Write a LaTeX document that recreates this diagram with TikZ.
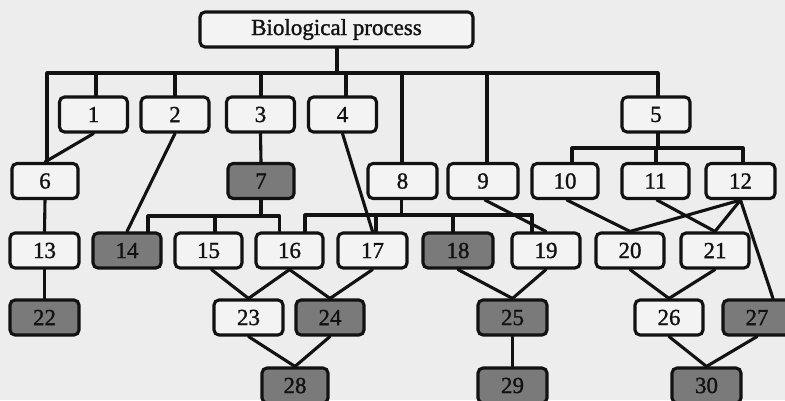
\documentclass[tikz,border=0pt]{standalone}
\usepackage{fontspec}
\setmainfont[FakeBold=1.2]{Liberation Serif}
\definecolor{paper}{HTML}{EDEDED}
\definecolor{boxfill}{HTML}{F3F3F3}
\definecolor{shade}{HTML}{7A7A7A}
\definecolor{ink}{HTML}{121212}
\begin{document}
\begin{tikzpicture}[x=1pt,y=-1pt,
  term/.style={draw=ink, line width=3.1pt, rounded corners=5pt, fill=boxfill,
    minimum width=68pt, minimum height=35pt, inner sep=0pt,
    font=\fontsize{23}{25}\selectfont, text=ink},
  hit/.style={term, fill=shade},
  link/.style={draw=ink, line width=3.1pt, line cap=round, line join=round}]
\fill[paper] (0,0) rectangle (785,400);
\useasboundingbox (0,0) rectangle (785,400);

% root
\node[term, minimum width=273pt] (root) at (336.5,29.5) {Biological process};

% first level
\node[term] (n1) at (93.5,114.5) {1};
\node[term] (n2) at (175,114.5) {2};
\node[term] (n3) at (260.5,114.5) {3};
\node[term] (n4) at (342.5,114.5) {4};
\node[term] (n5) at (656,114.5) {5};

% second level
\node[term, minimum width=66pt] (n6) at (45,181) {6};
\node[hit, minimum width=66pt] (n7) at (261,181) {7};
\node[term, minimum width=69pt] (n8) at (402.5,181) {8};
\node[term, minimum width=70pt] (n9) at (483,181) {9};
\node[term, minimum width=66pt] (n10) at (565,181) {10};
\node[term, minimum width=67pt] (n11) at (655.5,181) {11};
\node[term, minimum width=69pt] (n12) at (740.5,181) {12};

% third level
\node[term, minimum width=69pt] (n13) at (44.5,250.5) {13};
\node[hit] (n14) at (127,250.5) {14};
\node[term, minimum width=67pt] (n15) at (208.5,250.5) {15};
\node[term, minimum width=67pt] (n16) at (289.5,250.5) {16};
\node[term, minimum width=69pt] (n17) at (372.5,250.5) {17};
\node[hit, minimum width=70pt] (n18) at (458,250.5) {18};
\node[term] (n19) at (546,250.5) {19};
\node[term] (n20) at (630,250.5) {20};
\node[term] (n21) at (715,250.5) {21};

% fourth level
\node[hit, minimum width=69pt] (n22) at (44.5,317.5) {22};
\node[term, minimum width=69pt] (n23) at (248.5,317.5) {23};
\node[hit] (n24) at (330,317.5) {24};
\node[hit, minimum width=69pt] (n25) at (512.5,317.5) {25};
\node[term] (n26) at (669,317.5) {26};
\node[hit] (n27) at (757,317.5) {27};

% fifth level
\node[hit, minimum width=66pt] (n28) at (295,385.5) {28};
\node[hit, minimum width=69pt] (n29) at (512.5,385.5) {29};
\node[hit, minimum width=69pt] (n30) at (706.5,385.5) {30};

% main bus under the root
\coordinate (rb) at (337,73);
\draw[link] (root.south -| rb) -- (rb);
\draw[link] ([xshift=2pt]n6.north) |- (rb) -| ([xshift=2pt]n5.north);
\foreach \n/\dx in {n1/2.5, n2/0, n3/0.5, n4/3.5, n8/-0.5, n9/4} {
  \draw[link] ([xshift=\dx pt]\n.north) -- ([xshift=\dx pt]\n.north |- rb);
}

% bus under 5
\coordinate (b5) at (658,148);
\draw[link] ([xshift=2pt]n5.south) -- (b5);
\draw[link] ([xshift=7pt]n10.north) |- (b5) -| ([xshift=2.5pt]n12.north);
\draw[link] ([xshift=0.5pt]n11.north) -- ([xshift=0.5pt]n11.north |- b5);

% bus under 7
\coordinate (b7) at (261,216);
\draw[link] (n7.south) -- (b7);
\draw[link] ([xshift=21pt]n14.north) |- (b7) -| ([xshift=-10pt]n16.north);
\draw[link] ([xshift=6.5pt]n15.north) -- ([xshift=6.5pt]n15.north |- b7);

% bus under 8
\coordinate (b8) at (401.5,215);
\draw[link] ([xshift=-1pt]n8.south) -- (b8);
\draw[link] ([xshift=15.5pt]n16.north) |- (b8) -| ([xshift=-14pt]n19.north);
\draw[link] ([xshift=3.5pt]n17.north) -- ([xshift=3.5pt]n17.north |- b8);
\draw[link] ([xshift=-5pt]n18.north) -- ([xshift=-5pt]n18.north |- b8);

% single and crossing links
\draw[link] (n1.south) -- (n6.north);
\draw[link] (n2.south) -- (n14.north);
\draw[link] (n3.south) -- (n7.north);
\draw[link] (n4.south) -- (n17.north);
\draw[link] ([xshift=2pt]n9.south) -- (n19.north);
\draw[link] ([xshift=2pt]n10.south) -- (n20.north);
\draw[link] ([xshift=1.5pt]n11.south) -- (n21.north);
\draw[link] (n12.south) -- (n20.north);
\draw[link] (n12.south) -- (n21.north);
\draw[link] (n12.south) -- ([xshift=16pt]n27.north);
\draw[link] (n6.south) -- (n13.north);
\draw[link] (n13.south) -- (n22.north);
\draw[link] ([xshift=3pt]n15.south) -- (n23.north);
\draw[link] (n16.south) -- (n23.north);
\draw[link] (n16.south) -- (n24.north);
\draw[link] (n17.south) -- (n24.north);
\draw[link] (n18.south) -- (n25.north);
\draw[link] (n19.south) -- (n25.north);
\draw[link] (n20.south) -- (n26.north);
\draw[link] (n21.south) -- (n26.north);
\draw[link] (n23.south) -- (n28.north);
\draw[link] (n24.south) -- (n28.north);
\draw[link] (n25.south) -- (n29.north);
\draw[link] (n26.south) -- (n30.north);
\draw[link] (n27.south) -- (n30.north);
\end{tikzpicture}
\end{document}
